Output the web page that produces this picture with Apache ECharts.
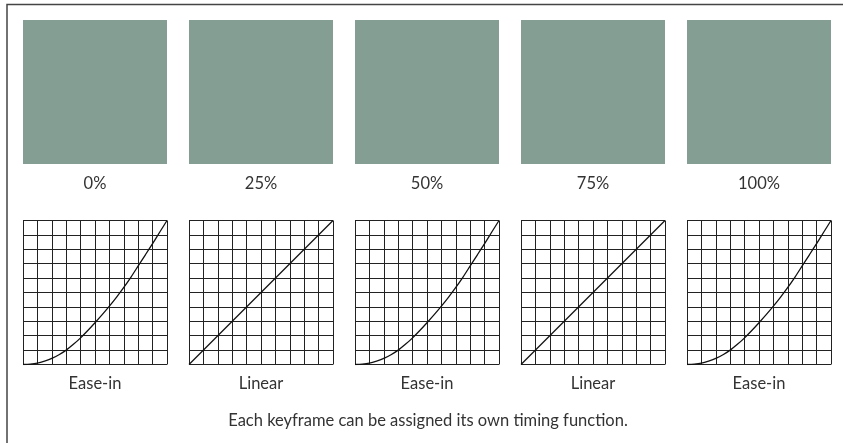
<!DOCTYPE html>
<html>
<head>
<meta charset="utf-8">
<script src="https://cdn.jsdelivr.net/npm/echarts@6/dist/echarts.min.js"></script>
<style>
html,body{margin:0;padding:0;background:#fff;}
#chart{width:843px;height:443px;}
</style>
</head>
<body>
<div id="chart"></div>
<script>
// ---- data ----
var keyframeLabels = ['0%', '25%', '50%', '75%', '100%'];
var timingLabels = ['Ease-in', 'Linear', 'Ease-in', 'Linear', 'Ease-in'];
var caption = 'Each keyframe can be assigned its own timing function.';
// curve points: [x progress, y progress]
var easeInX = [0, 0.05, 0.1, 0.15, 0.2, 0.25, 0.3, 0.35, 0.4, 0.45, 0.5,
               0.55, 0.6, 0.65, 0.7, 0.75, 0.8, 0.85, 0.9, 0.95, 1];
var easeInY = [0, 0.003, 0.01, 0.024, 0.042, 0.068, 0.1, 0.14, 0.185, 0.236, 0.29,
               0.346, 0.405, 0.468, 0.535, 0.607, 0.685, 0.762, 0.84, 0.92, 1];
var linearX = [0, 1];
var linearY = [0, 1];
var squareValue = [1];

// ---- build option ----
var FONT = 'Lato';
var FS = 16.5;
var TEXT = '#333';
var grids = [], xAxes = [], yAxes = [], series = [];
for (var i = 0; i < 5; i++) {
  var left = 23 + 166 * i;
  // square panel
  grids.push({left: left, top: 20, width: 144, height: 144});
  xAxes.push({
    gridIndex: grids.length - 1, type: 'category', data: [keyframeLabels[i]],
    axisLine: {show: false}, axisTick: {show: false}, splitLine: {show: false},
    axisLabel: {margin: 11, fontFamily: FONT, fontSize: FS, color: TEXT}
  });
  yAxes.push({
    gridIndex: grids.length - 1, type: 'value', min: 0, max: 1, show: false
  });
  series.push({
    type: 'bar', xAxisIndex: xAxes.length - 1, yAxisIndex: yAxes.length - 1,
    data: squareValue, barWidth: '100%', itemStyle: {color: '#849e94'},
    silent: true, animation: false
  });
  // timing curve panel
  grids.push({left: left, top: 220.5, width: 144, height: 144});
  var xs = timingLabels[i] === 'Linear' ? linearX : easeInX;
  var ys = timingLabels[i] === 'Linear' ? linearY : easeInY;
  var pts = xs.map(function (x, k) { return [x, ys[k]]; });
  xAxes.push({
    gridIndex: grids.length - 1, type: 'value', min: 0, max: 1, interval: 0.1,
    name: timingLabels[i], nameLocation: 'middle', nameGap: 11,
    nameTextStyle: {fontFamily: FONT, fontSize: FS, color: TEXT, verticalAlign: 'top'},
    axisLine: {show: false}, axisTick: {show: false}, axisLabel: {show: false},
    splitLine: {show: true, lineStyle: {color: '#222', width: 1}}
  });
  yAxes.push({
    gridIndex: grids.length - 1, type: 'value', min: 0, max: 1, interval: 0.1,
    axisLine: {show: false}, axisTick: {show: false}, axisLabel: {show: false},
    splitLine: {show: true, lineStyle: {color: '#222', width: 1}}
  });
  series.push({
    type: 'line', xAxisIndex: xAxes.length - 1, yAxisIndex: yAxes.length - 1,
    data: pts, smooth: 0.25, showSymbol: false, silent: true, animation: false,
    lineStyle: {color: '#111', width: 1.3}
  });
}

var chart = echarts.init(document.getElementById('chart'), null, {renderer: 'canvas'});
chart.setOption({
  backgroundColor: '#fff',
  animation: false,
  title: {
    text: caption, left: 423, top: 407, textAlign: 'center',
    textStyle: {fontFamily: FONT, fontSize: FS, fontWeight: 'normal', color: TEXT}
  },
  graphic: [{
    type: 'rect', silent: true, z: 100,
    shape: {x: 7, y: 4.5, width: 900, height: 500},
    style: {fill: 'none', stroke: '#444', lineWidth: 1.5}
  }],
  grid: grids,
  xAxis: xAxes,
  yAxis: yAxes,
  series: series
});
</script>
</body>
</html>
